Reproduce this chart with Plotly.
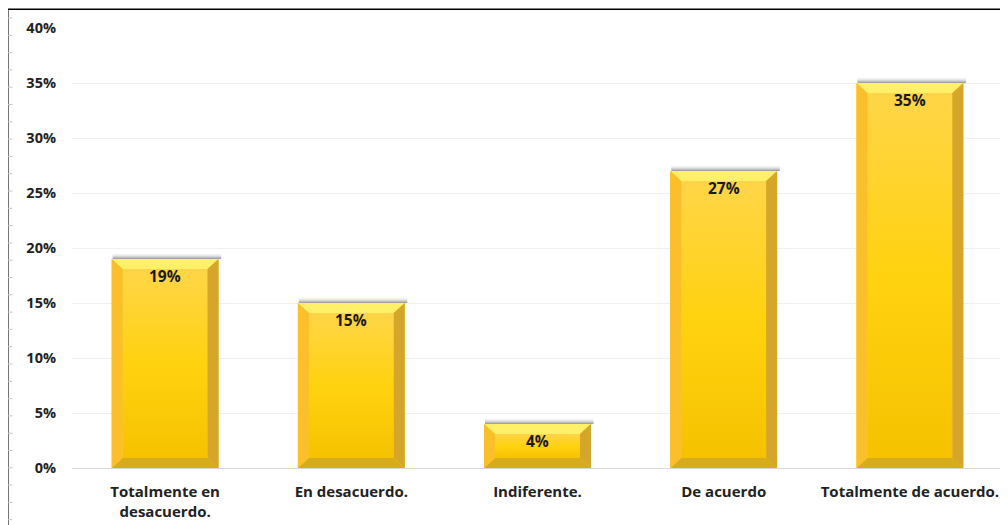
import plotly.graph_objects as go

categories = ["Totalmente en<br>desacuerdo.", "En desacuerdo.", "Indiferente.", "De acuerdo", "Totalmente de acuerdo."]
values = [0.19, 0.15, 0.04, 0.27, 0.35]
y_tickvals = [0, 0.05, 0.10, 0.15, 0.20, 0.25, 0.30, 0.35, 0.40]

# page body has an 8px margin, so the figure is sized to fit the window
W, H = 1000, 517
ML, MR, MT, MB = 64, 5, 20, 57
FONT = "'Open Sans', Lato, sans-serif"

xpos = list(range(len(categories)))
hw = 0.287   # half bar width (category units)
bx = 0.059   # bevel width (x units)
by = 0.0091  # bevel height (y units)

fig = go.Figure()

# base bars
fig.add_trace(go.Bar(
    x=xpos, y=values, width=2 * hw,
    marker=dict(color="#ffcf1a", line=dict(width=0)),
    hoverinfo="skip", showlegend=False,
))

for i, v in zip(xpos, values):
    x0, x1 = i - hw, i + hw
    # soft shadow above the top
    fig.add_trace(go.Scatter(
        x=[x0 + 0.005, x1 + 0.014, x1 + 0.014, x0 + 0.005, x0 + 0.005],
        y=[v, v, v + 0.006, v + 0.006, v],
        mode="lines", line=dict(width=0), fill="toself",
        fillgradient=dict(type="vertical",
                          colorscale=[[0, "rgba(110,110,110,0.75)"], [1, "rgba(255,255,255,0)"]]),
        hoverinfo="skip", showlegend=False,
    ))
    # face gradient
    fig.add_trace(go.Scatter(
        x=[x0 + bx, x1 - bx, x1 - bx, x0 + bx, x0 + bx],
        y=[by, by, v - by, v - by, by],
        mode="lines", line=dict(width=0), fill="toself",
        fillgradient=dict(type="vertical",
                          colorscale=[[0, "#f6c200"], [0.5, "#ffd20f"], [1, "#ffd548"]]),
        hoverinfo="skip", showlegend=False,
    ))
    # bevels: top, bottom, left, right
    bevels = [
        ([x0, x1, x1 - bx, x0 + bx, x0], [v, v, v - by, v - by, v], "#fff06a"),
        ([x0, x1, x1 - bx, x0 + bx, x0], [0, 0, by, by, 0], "#d6ac1c"),
        ([x0, x0, x0 + bx, x0 + bx, x0], [0, v, v - by, by, 0], "#fcbf2c"),
        ([x1, x1, x1 - bx, x1 - bx, x1], [0, v, v - by, by, 0], "#d5a62a"),
    ]
    for bxs, bys, col in bevels:
        fig.add_trace(go.Scatter(
            x=bxs, y=bys, mode="lines", line=dict(width=0),
            fill="toself", fillcolor=col,
            hoverinfo="skip", showlegend=False,
        ))
    fig.add_annotation(
        x=i, y=v, text=f"<b>{v:.0%}</b>", showarrow=False,
        yanchor="top", yshift=-4,
        font=dict(family=FONT, size=15.5, color="#1a1a1a"),
    )

# frame lines (document border)
pw = W - ML - MR
ph = H - MT - MB
def px_x(p):
    return (p - ML) / pw
def px_y(p):
    return (H - MB - p) / ph

fig.add_shape(type="line", xref="paper", yref="paper", x0=px_x(-0.2), x1=px_x(W + 2),
              y0=px_y(1.2), y1=px_y(1.2), line=dict(color="#000000", width=1.5))
fig.add_shape(type="line", xref="paper", yref="paper", x0=px_x(-0.2), x1=px_x(-0.2),
              y0=px_y(1.2), y1=px_y(H + 2), line=dict(color="#000000", width=1.5))
# faint ruler ticks along the left border
k = 0
while 10 + 17.3 * k < H:
    yy = 10 + 17.3 * k
    fig.add_shape(type="line", xref="paper", yref="paper", x0=px_x(0), x1=px_x(4.5),
                  y0=px_y(yy), y1=px_y(yy), line=dict(color="#c8c8c8", width=1))
    k += 1

fig.update_layout(
    width=W, height=H,
    margin=dict(l=ML, r=MR, t=MT, b=MB),
    paper_bgcolor="white", plot_bgcolor="white",
    bargap=0.426,
    font=dict(family=FONT, color="#222222"),
    xaxis=dict(
        range=[-0.5, len(categories) - 0.5],
        tickmode="array", tickvals=xpos,
        ticktext=[f"<b>{c}</b>" for c in categories],
        tickfont=dict(family=FONT, size=15, color="#222222"),
        showgrid=False, zeroline=False, showline=False, ticks="",
        ticklabelstandoff=13,
    ),
    yaxis=dict(
        range=[0, 0.40],
        tickmode="array", tickvals=y_tickvals,
        ticktext=[f"<b>{t:.0%}</b>" for t in y_tickvals],
        tickfont=dict(family=FONT, size=14.5, color="#222222"),
        showgrid=True, gridcolor="#f0f0f0", gridwidth=1,
        zeroline=True, zerolinecolor="#d9d9d9", zerolinewidth=1,
        showline=False, ticks="", ticklabelstandoff=15,
    ),
)

fig.write_html("out.html")
